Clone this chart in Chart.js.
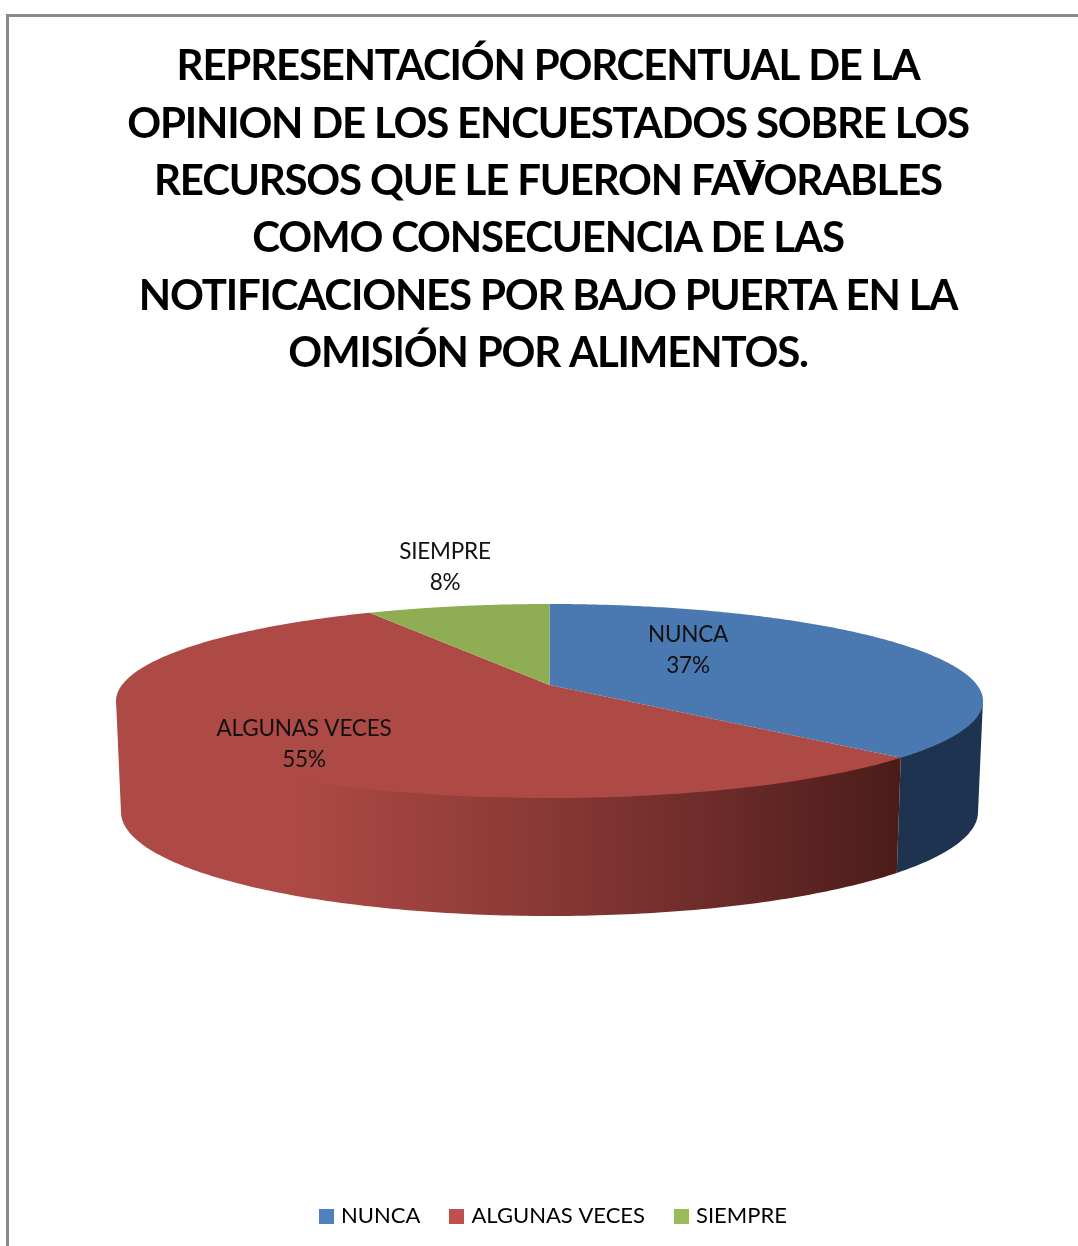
<!DOCTYPE html>
<html><head><meta charset="utf-8">
<style>html,body{margin:0;padding:0;background:#fff}canvas{display:block}</style>
<script src="https://cdn.jsdelivr.net/npm/chart.js@4"></script>
</head><body><canvas id="c" width="1078" height="1246"></canvas>
<script>
const categories = ["NUNCA", "ALGUNAS VECES", "SIEMPRE"];
const percentages = [37, 55, 8];
const titleLines = [
  "REPRESENTACIÓN PORCENTUAL DE LA",
  "OPINION DE LOS ENCUESTADOS SOBRE LOS",
  "RECURSOS QUE LE FUERON FAVORABLES",
  "COMO CONSECUENCIA DE LAS",
  "NOTIFICACIONES POR BAJO PUERTA EN LA",
  "OMISIÓN POR ALIMENTOS."
];
const faceColors = ["#4A78B0", "#AE4A46", "#8FAE54"];
const legendColors = ["#4F81BD", "#C0504D", "#9BBB59"];
const wallStops = [
  [[0, "#1D334F"], [1, "#1D334F"]],
  [[0, "#AE4A46"], [0.22, "#AE4A46"], [0.5, "#8F3B38"], [0.75, "#6E2C2A"], [1, "#4B1C1A"]],
  [[0, "#6F8A3F"], [1, "#6F8A3F"]]
];
const labelCentres = [[688, 635], [304, 729], [445, 552]];
const LINE = 31;
const FONT = '"Lato", "Open Sans", sans-serif';

// projection of the pie's circle onto the tilted disc
const TOP = {cx: 549.5, cy: 701, rx: 433.5, ry: 97};
const BOTTOM = {cx: 549.5, cy: 812, rx: 428.5, ry: 104};
const TILT = -(701 - 685) / 97;
function project(angle) {
  const x = Math.cos(angle), y = Math.sin(angle), d = 1 + TILT * y;
  return [x * Math.sqrt(1 - TILT * TILT) / d, (y + TILT) / d];
}
function onDisc(p, e) { return [e.cx + e.rx * p[0], e.cy + e.ry * p[1]]; }
function sample(el) {
  const pts = [], n = 240;
  for (let i = 0; i <= n; i++) pts.push(project(el.startAngle + (el.endAngle - el.startAngle) * i / n));
  return pts;
}
function drawFace(ctx) {
  const pts = sample(this);
  const v = onDisc([0, TILT], TOP);
  ctx.save();
  ctx.beginPath();
  ctx.moveTo(v[0], v[1]);
  pts.forEach(p => { const q = onDisc(p, TOP); ctx.lineTo(q[0], q[1]); });
  ctx.closePath();
  ctx.fillStyle = this.options.backgroundColor;
  ctx.fill();
  ctx.restore();
}
function swatch(color) {
  const s = document.createElement("canvas");
  s.width = 15; s.height = 15;
  const c = s.getContext("2d");
  c.fillStyle = color;
  c.fillRect(0, 0, 15, 15);
  return s;
}

const pie3d = {
  id: "pie3d",
  afterLayout(chart) {
    chart.legend.left += 7;
    chart.legend.right += 7;
    const t = chart.titleBlock;
    if (!t._spaced) {
      t._spaced = true;
      const base = t.draw;
      t.draw = function () {
        chart.ctx.letterSpacing = "-1.2px";
        base.apply(this, arguments);
        chart.ctx.letterSpacing = "0px";
      };
    }
  },
  beforeDraw(chart) {
    const ctx = chart.ctx;
    ctx.save();
    ctx.fillStyle = "#fff";
    ctx.fillRect(0, 0, chart.width, chart.height);
    ctx.fillStyle = "#8A8A8A";
    ctx.fillRect(6, 14, chart.width - 6, 3);
    ctx.fillRect(6, 14, 3, chart.height - 14);
    ctx.restore();
  },
  beforeDatasetsDraw(chart) {
    const ctx = chart.ctx, arcs = chart.getDatasetMeta(0).data;
    arcs.forEach((el, idx) => {
      el.draw = drawFace;
      const front = sample(el).filter(p => p[1] >= 0);
      if (!front.length) return;
      const g = ctx.createLinearGradient(TOP.cx - TOP.rx, 0, onDisc(project(arcs[0].endAngle), TOP)[0], 0);
      wallStops[idx].forEach(s => g.addColorStop(s[0], s[1]));
      ctx.save();
      ctx.beginPath();
      front.forEach((p, i) => { const q = onDisc(p, TOP); i ? ctx.lineTo(q[0], q[1] - 1.5) : ctx.moveTo(q[0], q[1] - 1.5); });
      front.slice().reverse().forEach(p => { const q = onDisc(p, BOTTOM); ctx.lineTo(q[0], q[1]); });
      ctx.closePath();
      ctx.fillStyle = g;
      ctx.fill();
      ctx.restore();
    });
  },
  afterDraw(chart) {
    const ctx = chart.ctx;
    ctx.save();
    ctx.textAlign = "center";
    ctx.textBaseline = "middle";
    ctx.fillStyle = "#111";
    ctx.font = "22.5px " + FONT;
    ctx.letterSpacing = "-0.2px";
    categories.forEach((c, i) => {
      const [x, y] = labelCentres[i];
      ctx.fillText(c, x, y);
      ctx.fillText(percentages[i] + "%", x, y + LINE);
    });
    ctx.letterSpacing = "0px";
    ctx.fillStyle = "#000";
    ctx.font = 'bold 44px "Liberation Serif", serif';
    ctx.fillText("V", 749, 178);
    ctx.restore();
  }
};

new Chart(document.getElementById("c"), {
  type: "pie",
  data: {
    labels: categories,
    datasets: [{data: percentages, backgroundColor: faceColors, borderWidth: 0}]
  },
  plugins: [pie3d],
  options: {
    responsive: false,
    animation: false,
    layout: {padding: {left: 18, right: 0, top: 38, bottom: 9}},
    plugins: {
      tooltip: {enabled: false},
      title: {
        display: true,
        text: titleLines,
        color: "#000",
        font: {family: FONT, size: 42, weight: "bold", lineHeight: 1.367},
        padding: 0
      },
      legend: {
        position: "bottom",
        labels: {
          usePointStyle: true,
          pointStyleWidth: 7,
          boxHeight: 15,
          padding: 33,
          color: "#111",
          font: {family: FONT, size: 22},
          generateLabels: chart => categories.map((c, i) => ({
            text: c, fillStyle: legendColors[i], strokeStyle: legendColors[i], lineWidth: 0, index: i,
            pointStyle: swatch(legendColors[i])
          }))
        }
      }
    }
  }
});
</script></body></html>
